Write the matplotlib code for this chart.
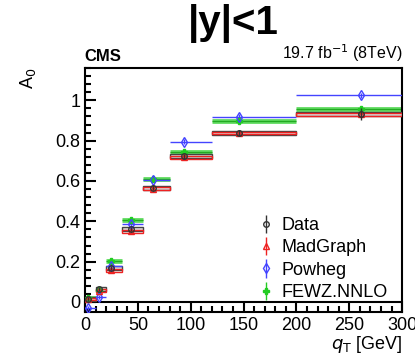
import numpy as np
import matplotlib
matplotlib.use('Agg')
from matplotlib import pyplot as plt
from matplotlib.ticker import MultipleLocator

plt.rcParams['font.family'] = ['Liberation Sans', 'DejaVu Sans']

# qT bins and mean qT of each bin
edges = np.array([0, 10, 20, 35, 55, 80, 120, 200, 300])
x_mean = [3, 13, 25, 43, 64, 94, 146, 261]

data = [0.015, 0.062, 0.168, 0.362, 0.567, 0.722, 0.838, 0.930]
data_err = [0.01, 0.01, 0.01, 0.012, 0.012, 0.012, 0.015, 0.03]
madgraph = [0.015, 0.055, 0.158, 0.350, 0.562, 0.718, 0.838, 0.930]
powheg = [-0.030, 0.025, 0.178, 0.385, 0.605, 0.795, 0.918, 1.024]
fewz = [0.020, 0.060, 0.205, 0.408, 0.612, 0.743, 0.896, 0.955]

left = edges[:-1]
width = np.diff(edges)

fig = plt.figure(figsize=(4.15, 3.62), dpi=100)
ax = fig.add_axes([0.205, 0.138, 0.764, 0.674])

# green FEWZ band
ax.hlines(fewz, left, edges[1:], color='#66dd66', lw=3.5, zorder=2)
ax.hlines(fewz, left, edges[1:], color='#22aa22', lw=1.0, zorder=2)

# data syst boxes (gray) and madgraph boxes (red)
ax.bar(left, 0.02, width=width, bottom=np.array(data) - 0.01, align='edge',
       facecolor='#dddddd', edgecolor='#444444', lw=1.0, zorder=3)
ax.bar(left, 0.014, width=width, bottom=np.array(madgraph) - 0.007, align='edge',
       facecolor='none', edgecolor='#ee2222', lw=1.0, zorder=4)

# powheg lines
ax.hlines(powheg, left, edges[1:], color='#4444ff', lw=1.0, zorder=5)

ax.errorbar(x_mean, fewz, yerr=0.012, fmt='P', color='#22cc22', ms=5, lw=1,
            zorder=6, label='FEWZ.NNLO')
ax.errorbar(x_mean, powheg, yerr=0.012, fmt='d', color='#4444ff', mfc='none',
            ms=5, lw=1, zorder=6, label='Powheg')
ax.errorbar(x_mean, madgraph, yerr=0.012, fmt='^', color='#ee2222', mfc='none',
            ms=5, lw=1, zorder=6, label='MadGraph')
ax.errorbar(x_mean, data, yerr=data_err, fmt='o', color='#333333', mfc='none',
            ms=4, lw=1, zorder=7, label='Data')

ax.axhline(0, color='black', lw=1.5, zorder=1)

ax.set_xlim(0, 300)
ax.set_ylim(-0.05, 1.16)
ax.xaxis.set_major_locator(MultipleLocator(50))
ax.xaxis.set_minor_locator(MultipleLocator(10))
ax.yaxis.set_minor_locator(MultipleLocator(0.04))
ax.set_yticks([0, 0.2, 0.4, 0.6, 0.8, 1.0])
ax.set_yticklabels(['0', '0.2', '0.4', '0.6', '0.8', '1'])
ax.tick_params(which='both', direction='in', labelsize=13, width=1.5)
ax.tick_params(which='major', length=8)
ax.tick_params(which='minor', length=4)
for s in ax.spines.values():
    s.set_linewidth(1.5)

ax.set_xlabel(r'$q_{\mathrm{T}}$ [GeV]', fontsize=13, loc='right', labelpad=0)
ax.set_ylabel(r'A$_0$', fontsize=13, loc='top', labelpad=12)

h, l = ax.get_legend_handles_labels()
ax.legend(h[::-1], l[::-1], loc='lower right', frameon=False, fontsize=13,
          handletextpad=0.3, handlelength=1.2, labelspacing=0.3,
          borderaxespad=0.2, bbox_to_anchor=(0.99, 0.0))

fig.text(0.203, 0.822, 'CMS', fontsize=12, fontweight='bold', ha='left', va='bottom')
fig.text(0.969, 0.822, r'19.7 fb$^{-1}$ (8TeV)', fontsize=11.5, ha='right', va='bottom')
fig.text(0.563, 0.99, '|y|<1', fontsize=29, fontweight='bold', ha='center', va='top')

fig.savefig('out.png', dpi=100)
